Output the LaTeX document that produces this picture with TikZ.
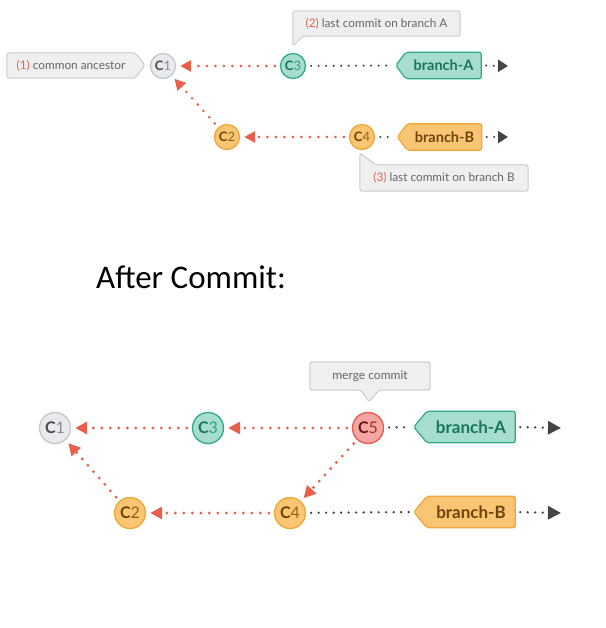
\documentclass[tikz,border=0pt]{standalone}
\usepackage{fontspec}
\setmainfont{Lato}
\newfontfamily\calibri{Carlito}
\usetikzlibrary{arrows.meta,backgrounds}

\definecolor{graybg}{HTML}{E9EAED}
\definecolor{grayline}{HTML}{C4C7CB}
\definecolor{tealbg}{HTML}{A7DDCE}
\definecolor{tealline}{HTML}{2DAB89}
\definecolor{orangebg}{HTML}{F8C672}
\definecolor{orangeline}{HTML}{F1A636}
\definecolor{redbg}{HTML}{F6A5A2}
\definecolor{redline}{HTML}{E55A4B}
\definecolor{dotred}{HTML}{E8604C}
\definecolor{dotgray}{HTML}{444444}
\definecolor{notebg}{HTML}{EEEFF1}
\definecolor{noteline}{HTML}{C9CBCE}
\definecolor{notetext}{HTML}{666666}
\definecolor{cgraydark}{HTML}{4A4B4F}
\definecolor{cgraylight}{HTML}{8A8B8F}
\definecolor{ctealdark}{HTML}{17765D}
\definecolor{ctheallight}{HTML}{28A282}
\definecolor{corangedark}{HTML}{6E4508}
\definecolor{corangelight}{HTML}{99620F}
\definecolor{creddark}{HTML}{6E1616}
\definecolor{credlight}{HTML}{9E2E2A}

% commit label: bold C, lighter number
\newcommand{\clab}[3]{{\color{#1}\bfseries C}{\color{#2}#3}}

\tikzset{
  commit/.style={circle, line width=1.3pt, inner sep=0pt, minimum size=25pt,
    font=\fontsize{13}{13}\selectfont},
  bigcommit/.style={commit, minimum size=31pt, font=\fontsize{16}{16}\selectfont},
  cgray/.style={fill=graybg, draw=grayline},
  cteal/.style={fill=tealbg, draw=tealline},
  corange/.style={fill=orangebg, draw=orangeline},
  cred/.style={fill=redbg, draw=redline},
  rdots/.style={draw=dotred, line width=2.8pt, line cap=round,
    dash pattern=on 0pt off 8.5pt, shorten <=5pt, shorten >=4pt,
    -{Triangle[length=11pt,width=11pt,fill=dotred]}},
  bdots/.style={draw=dotgray, line width=2.3pt, line cap=round,
    dash pattern=on 0pt off 7.5pt, shorten <=5pt, shorten >=4pt},
  headtip/.style={-{Triangle[length=10pt,width=12pt,fill=dotgray]}, shorten >=0pt},
  note/.style={inner sep=0pt, text=notetext, font=\fontsize{11.8}{11.8}\selectfont},
  noteshape/.style={fill=notebg, draw=noteline, line width=1pt, rounded corners=2.5pt},
  tagtext/.style={inner sep=0pt, font=\bfseries\fontsize{14.5}{14.5}\selectfont},
  tealtag/.style={fill=tealbg, draw=tealline, line width=1.2pt, rounded corners=2pt},
  orangetag/.style={fill=orangebg, draw=orangeline, line width=1.2pt, rounded corners=2pt},
}

\begin{document}
\begin{tikzpicture}[x=1pt,y=-1pt]
  \useasboundingbox (0,0) rectangle (605,628);

  % before the merge
  \node[commit, cgray] (c1) at (163,66) {\clab{cgraydark}{cgraylight}{1}};
  \node[commit, cteal] (c3) at (293,66) {\clab{ctealdark}{ctheallight}{3}};
  \node[commit, corange] (c2) at (227,137) {\clab{corangedark}{corangelight}{2}};
  \node[commit, corange] (c4) at (362,137) {\clab{corangedark}{corangelight}{4}};

  \node[tagtext, text=ctealdark, minimum width=75pt, minimum height=26pt] (tagA) at (443.5,65.5) {branch-A};
  \node[tagtext, text=corangedark, minimum width=74pt, minimum height=26pt] (tagB) at (444.5,137) {branch-B};
  \coordinate (tipA) at ([xshift=-10pt]tagA.west);
  \coordinate (tipB) at ([xshift=-10pt]tagB.west);
  \coordinate (headA) at (508,66);
  \coordinate (headB) at (508,137);

  \node[note, minimum width=128pt, minimum height=25pt] (note1) at (71,65.5)
    {{\color{dotred}(1)} common ancestor};
  \node[note, minimum width=167pt, minimum height=25pt] (note2) at (376.5,23.5)
    {{\color{dotred}(2)} last commit on branch A};
  \node[note, minimum width=168pt, minimum height=26pt] (note3) at (444,178)
    {{\color{dotred}(3)} last commit on branch B};
  \coordinate (tip1) at (145,65);
  \coordinate (tip2) at (293,46);
  \coordinate (tip3) at (360,153);

  % parents
  \draw[rdots] (c3) -- (c1);
  \draw[rdots] (c4) -- (c2);
  \draw[rdots] (c2) -- (c1);

  % branch heads
  \draw[bdots] (c3) -- (tipA);
  \draw[bdots] (c4) -- (tipB);
  \draw[bdots, headtip] (tagA.east) -- (headA);
  \draw[bdots, headtip] (tagB.east) -- (headB);

  \node[font=\calibri\fontsize{33}{33}\selectfont, inner sep=0pt, anchor=base west] (title)
    at (96,288) {After Commit:};

  % after the merge
  \node[bigcommit, cgray] (d1) at (55,428) {\clab{cgraydark}{cgraylight}{1}};
  \node[bigcommit, cteal] (d3) at (208,428) {\clab{ctealdark}{ctheallight}{3}};
  \node[bigcommit, cred] (d5) at (368,428) {\clab{creddark}{credlight}{5}};
  \node[bigcommit, corange] (d2) at (130,513) {\clab{corangedark}{corangelight}{2}};
  \node[bigcommit, corange] (d4) at (290,513) {\clab{corangedark}{corangelight}{4}};

  \node[tagtext, text=ctealdark, minimum width=88pt, minimum height=31pt,
    font=\bfseries\fontsize{17}{17}\selectfont] (tagA2) at (471,427) {branch-A};
  \node[tagtext, text=corangedark, minimum width=88pt, minimum height=31pt,
    font=\bfseries\fontsize{17}{17}\selectfont] (tagB2) at (471,512) {branch-B};
  \coordinate (tipA2) at ([xshift=-13pt]tagA2.west);
  \coordinate (tipB2) at ([xshift=-13pt]tagB2.west);
  \coordinate (headA2) at (561,428);
  \coordinate (headB2) at (561,513);

  \node[note, minimum width=120pt, minimum height=28pt,
    font=\fontsize{12}{12}\selectfont] (merge) at (370,376) {merge commit};
  \coordinate (tip5) at (369,402);

  \draw[rdots, -{Triangle[length=12pt,width=12pt,fill=dotred]}, line width=3.2pt] (d3) -- (d1);
  \draw[rdots, -{Triangle[length=12pt,width=12pt,fill=dotred]}, line width=3.2pt] (d5) -- (d3);
  \draw[rdots, -{Triangle[length=12pt,width=12pt,fill=dotred]}, line width=3.2pt] (d5) -- (d4);
  \draw[rdots, -{Triangle[length=12pt,width=12pt,fill=dotred]}, line width=3.2pt] (d4) -- (d2);
  \draw[rdots, -{Triangle[length=12pt,width=12pt,fill=dotred]}, line width=3.2pt] (d2) -- (d1);

  \draw[bdots, line width=2.6pt] (d5) -- (tipA2);
  \draw[bdots, line width=2.6pt] (d4) -- (tipB2);
  \draw[bdots, line width=2.6pt, headtip, -{Triangle[length=13pt,width=13pt,fill=dotgray]}] (tagA2.east) -- (headA2);
  \draw[bdots, line width=2.6pt, headtip, -{Triangle[length=13pt,width=13pt,fill=dotgray]}] (tagB2.east) -- (headB2);

  % outlines of tags and notes, behind their text
  \begin{scope}[on background layer]
    \draw[tealtag] (tagA.north) -- (tagA.north east) -- (tagA.south east) -- (tagA.south west) -- (tipA) -- (tagA.north west) -- cycle;
    \draw[orangetag] (tagB.north) -- (tagB.north east) -- (tagB.south east) -- (tagB.south west) -- (tipB) -- (tagB.north west) -- cycle;
    \draw[tealtag] (tagA2.north) -- (tagA2.north east) -- (tagA2.south east) -- (tagA2.south west) -- (tipA2) -- (tagA2.north west) -- cycle;
    \draw[orangetag] (tagB2.north) -- (tagB2.north east) -- (tagB2.south east) -- (tagB2.south west) -- (tipB2) -- (tagB2.north west) -- cycle;

    \draw[noteshape] (note1.north) -- (note1.north east) -- (tip1) -- (note1.south east) -- (note1.south west) -- (note1.north west) -- cycle;
    \draw[noteshape] (note2.north) -- (note2.north east) -- (note2.south east) -- ([xshift=10pt]note2.south west) -- (tip2) -- (note2.north west) -- cycle;
    \draw[noteshape] (note3.east) -- (note3.south east) -- (note3.south west) -- (tip3) -- ([xshift=16pt]note3.north west) -- (note3.north east) -- cycle;
    \draw[noteshape] (merge.north) -- (merge.north east) -- (merge.south east) -- ([xshift=9pt]merge.south) -- (tip5) -- ([xshift=-9pt]merge.south) -- (merge.south west) -- (merge.north west) -- cycle;
  \end{scope}
\end{tikzpicture}
\end{document}
